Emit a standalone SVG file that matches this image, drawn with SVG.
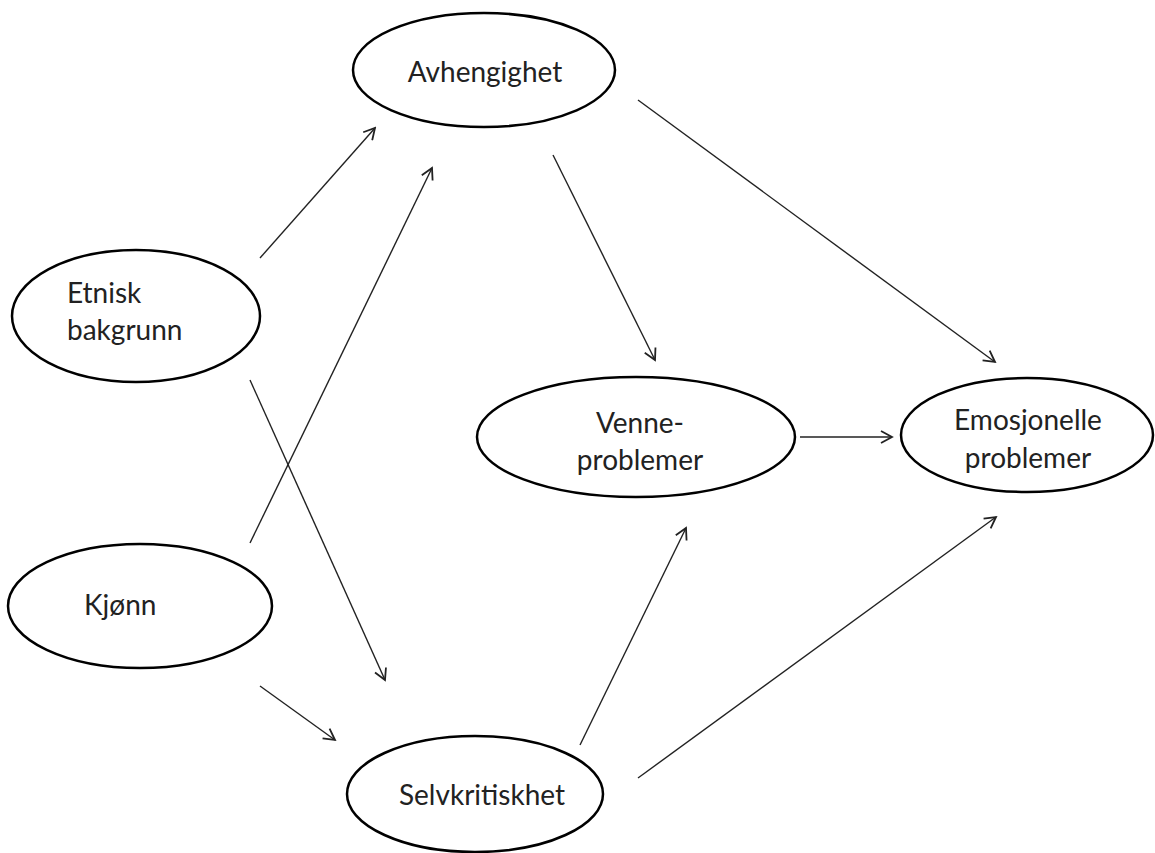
<svg xmlns="http://www.w3.org/2000/svg" width="1155" height="853" viewBox="0 0 1155 853">
<style>
.node ellipse{fill:#fff;stroke:#000;stroke-width:2.5}
.node text{font-family:Lato,"Open Sans",sans-serif;font-size:28px;fill:#222}
.c line{stroke:#222;stroke-width:1.4;fill:none;marker-end:url(#ah)}
</style>
<defs>
<marker id="ah" viewBox="0 0 14 14" refX="12" refY="7" markerWidth="14" markerHeight="14" markerUnits="userSpaceOnUse" orient="auto">
<polyline points="1,1 12,7 1,13" fill="none" stroke="#222" stroke-width="1.8"/>
</marker>
</defs>
<rect width="1155" height="853" fill="#fff"/>
<g class="c">
<line x1="260" y1="258" x2="375" y2="128"/>
<line x1="250" y1="543" x2="432" y2="168"/>
<line x1="250" y1="380" x2="385" y2="680"/>
<line x1="260" y1="686" x2="335" y2="740"/>
<line x1="553" y1="155" x2="655" y2="360"/>
<line x1="638" y1="100" x2="995" y2="362"/>
<line x1="800" y1="437" x2="892" y2="437"/>
<line x1="580" y1="745" x2="686" y2="528"/>
<line x1="638" y1="778" x2="996" y2="517"/>
</g>
<g id="avhengighet" class="node"><ellipse cx="484" cy="70" rx="131" ry="57"/><text x="485" y="82" text-anchor="middle">Avhengighet</text></g>
<g id="etnisk" class="node"><ellipse cx="136" cy="316" rx="124" ry="66"/><text x="67" y="303">Etnisk</text><text x="67" y="340">bakgrunn</text></g>
<g id="kjonn" class="node"><ellipse cx="140" cy="606" rx="132" ry="62"/><text x="84" y="615">Kjønn</text></g>
<g id="venne" class="node"><ellipse cx="636" cy="437" rx="159" ry="60"/><text x="640" y="433" text-anchor="middle">Venne-</text><text x="640" y="470" text-anchor="middle">problemer</text></g>
<g id="emosjonelle" class="node"><ellipse cx="1027" cy="435" rx="126" ry="57"/><text x="1028" y="430" text-anchor="middle">Emosjonelle</text><text x="1028" y="468" text-anchor="middle">problemer</text></g>
<g id="selvkritiskhet" class="node"><ellipse cx="475" cy="794" rx="128" ry="58"/><text x="482" y="805" text-anchor="middle">Selvkritiskhet</text></g>
</svg>
